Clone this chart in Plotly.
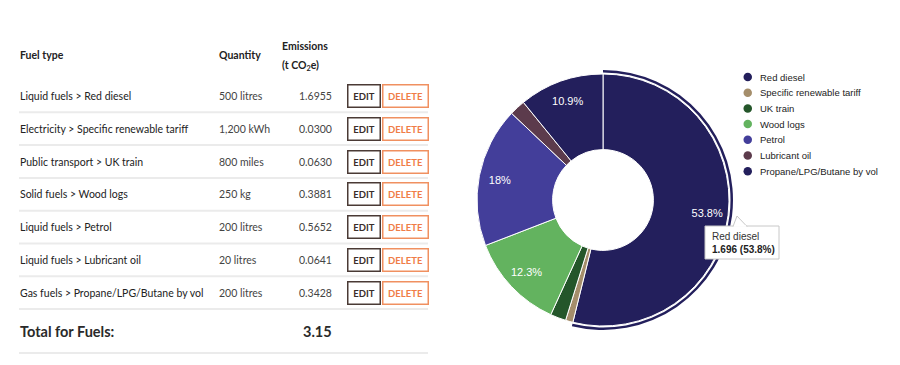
import plotly.graph_objects as go

# ---------------- data ----------------
fuel_types = [
    "Liquid fuels > Red diesel",
    "Electricity > Specific renewable tariff",
    "Public transport > UK train",
    "Solid fuels > Wood logs",
    "Liquid fuels > Petrol",
    "Liquid fuels > Lubricant oil",
    "Gas fuels > Propane/LPG/Butane by vol",
]
quantities = ["500 litres", "1,200 kWh", "800 miles", "250 kg",
              "200 litres", "20 litres", "200 litres"]
emissions = [1.6955, 0.0300, 0.0630, 0.3881, 0.5652, 0.0641, 0.3428]
slice_labels = ["Red diesel", "Specific renewable tariff", "UK train",
                "Wood logs", "Petrol", "Lubricant oil", "Propane/LPG/Butane by vol"]
slice_colors = ["#231f5c", "#a58e6b", "#24562a", "#63b35f",
                "#433e9a", "#5c3b4c", "#231f5c"]

# page body has an 8px margin: size the figure to the remaining area
OFF = 8
W, H = 900 - 2 * OFF, 365 - 2 * OFF
FONT = "Lato"
HC_FONT = "Liberation Sans"


def px(x):
    return (x - OFF) / W


def py(y):
    return 1 - (y - OFF) / H


total = sum(emissions)
pcts = [v / total for v in emissions]

fig = go.Figure()

# main donut
cx, cy, R = 603, 200, 126
fig.add_trace(go.Pie(
    labels=slice_labels, values=emissions, sort=False, direction="clockwise",
    rotation=0, hole=0.40,
    marker=dict(colors=slice_colors, line=dict(color="white", width=1)),
    textinfo="none", hoverinfo="skip", showlegend=False,
    domain=dict(x=[px(cx - R), px(cx + R)], y=[py(cy + R), py(cy - R)]),
))

# highlight ring around the hovered slice (Red diesel)
R2 = 130
fig.add_trace(go.Pie(
    labels=slice_labels, values=emissions, sort=False, direction="clockwise",
    rotation=0, hole=127.5 / R2,
    marker=dict(colors=[slice_colors[0]] + ["rgba(0,0,0,0)"] * 6,
                line=dict(width=0)),
    textinfo="none", hoverinfo="skip", showlegend=False,
    domain=dict(x=[px(cx - R2), px(cx + R2)], y=[py(cy + R2), py(cy - R2)]),
))

# percentage labels (transparent overlay so labels sit near the outer edge)
fig.add_trace(go.Pie(
    labels=slice_labels, values=emissions, sort=False, direction="clockwise",
    rotation=0, hole=0.667,
    marker=dict(colors=["rgba(0,0,0,0)"] * 7, line=dict(width=0)),
    textinfo="percent",
    textposition=["inside" if p >= 0.05 else "none" for p in pcts],
    insidetextorientation="horizontal",
    textfont=dict(family=HC_FONT, size=11, color="white"),
    hoverinfo="skip", showlegend=False,
    domain=dict(x=[px(cx - R), px(cx + R)], y=[py(cy + R), py(cy - R)]),
))

shapes = []
ann = []

# ---------------- table ----------------
TXT = "#222222"
ann.append(dict(x=px(18), y=py(55), text="<b>Fuel type</b>", xanchor="left",
                font=dict(family=FONT, size=10.5, color=TXT)))
ann.append(dict(x=px(217), y=py(55), text="<b>Quantity</b>", xanchor="left",
                font=dict(family=FONT, size=10.5, color=TXT)))
ann.append(dict(x=px(280), y=py(46), text="<b>Emissions</b>", xanchor="left",
                font=dict(family=FONT, size=10.5, color=TXT)))
ann.append(dict(x=px(280), y=py(66), text="<b>(t CO<sub>2</sub>e)</b>", xanchor="left",
                font=dict(family=FONT, size=10.5, color=TXT)))

row0, row_h = 96, 32.8
for i, (f, q, e) in enumerate(zip(fuel_types, quantities, emissions)):
    yy = row0 + i * row_h
    ann.append(dict(x=px(18), y=py(yy), text=f, xanchor="left",
                    font=dict(family=FONT, size=10.5, color=TXT)))
    ann.append(dict(x=px(217), y=py(yy), text=q, xanchor="left",
                    font=dict(family=FONT, size=10.5, color="#444444")))
    ann.append(dict(x=px(334), y=py(yy), text=f"{e:.4f}", xanchor="right",
                    font=dict(family=FONT, size=10.5, color="#444444")))
    ann.append(dict(x=px(363.5), y=py(yy), text="<b>EDIT</b>", width=31, height=21,
                    borderpad=0, bordercolor="#4a3a35", borderwidth=1.5,
                    font=dict(family=FONT, size=9.5, color="#3a2e2a")))
    ann.append(dict(x=px(405), y=py(yy), text="<b>DELETE</b>", width=44, height=21,
                    borderpad=0, bordercolor="#f09060", borderwidth=1.5,
                    font=dict(family=FONT, size=9.5, color="#f07d48")))
    ly = yy + 16.3
    shapes.append(dict(type="line", xref="paper", yref="paper",
                       x0=px(19), x1=px(428), y0=py(ly), y1=py(ly),
                       line=dict(color="#ebebeb", width=2)))

ann.append(dict(x=px(18), y=py(331), text="<b>Total for Fuels:</b>", xanchor="left",
                font=dict(family=FONT, size=14.5, color="#2a2a2a")))
ann.append(dict(x=px(334), y=py(331), text=f"<b>{total:.2f}</b>", xanchor="right",
                font=dict(family=FONT, size=14.5, color="#2a2a2a")))
shapes.append(dict(type="line", xref="paper", yref="paper",
                   x0=px(19), x1=px(428), y0=py(353), y1=py(353),
                   line=dict(color="#ebebeb", width=2)))

# ---------------- legend ----------------
leg_y0, leg_dy = 77, 15.7
for i, (lab, col) in enumerate(zip(slice_labels, slice_colors)):
    yy = leg_y0 + i * leg_dy
    shapes.append(dict(type="circle", xref="paper", yref="paper",
                       x0=px(743.5), x1=px(752), y0=py(yy + 4.25), y1=py(yy - 4.25),
                       fillcolor=col, line=dict(width=0)))
    ann.append(dict(x=px(758), y=py(yy), text=lab, xanchor="left",
                    font=dict(family=HC_FONT, size=9.5, color="#222222")))

# ---------------- tooltip ----------------
shapes.append(dict(type="path", xref="paper", yref="paper",
                   path=f"M {px(705)} {py(226)} L {px(779)} {py(226)} L {px(779)} {py(259)} "
                        f"L {px(705)} {py(259)} Z",
                   fillcolor="white", line=dict(color="#c8c8c8", width=1)))
shapes.append(dict(type="path", xref="paper", yref="paper",
                   path=f"M {px(733)} {py(226.5)} L {px(737)} {py(216)} L {px(747)} {py(226.5)}",
                   fillcolor="white", line=dict(color="#c8c8c8", width=1)))
shapes.append(dict(type="line", xref="paper", yref="paper",
                   x0=px(734), x1=px(746), y0=py(226), y1=py(226),
                   line=dict(color="white", width=1.5)))
ann.append(dict(x=px(710), y=py(236), text=slice_labels[0], xanchor="left",
                font=dict(family=HC_FONT, size=10, color="#333333")))
ann.append(dict(x=px(710), y=py(250),
                text=f"<b>{emissions[0]:.3f} ({pcts[0]*100:.1f}%)</b>", xanchor="left",
                font=dict(family=HC_FONT, size=10, color="#222222")))

for a in ann:
    a.setdefault("xref", "paper")
    a.setdefault("yref", "paper")
    a.setdefault("showarrow", False)
    a.setdefault("yanchor", "middle")

fig.update_layout(
    width=W, height=H, margin=dict(l=0, r=0, t=0, b=0),
    paper_bgcolor="white", plot_bgcolor="white",
    shapes=shapes, annotations=ann, showlegend=False,
)

fig.write_html("out.html")
